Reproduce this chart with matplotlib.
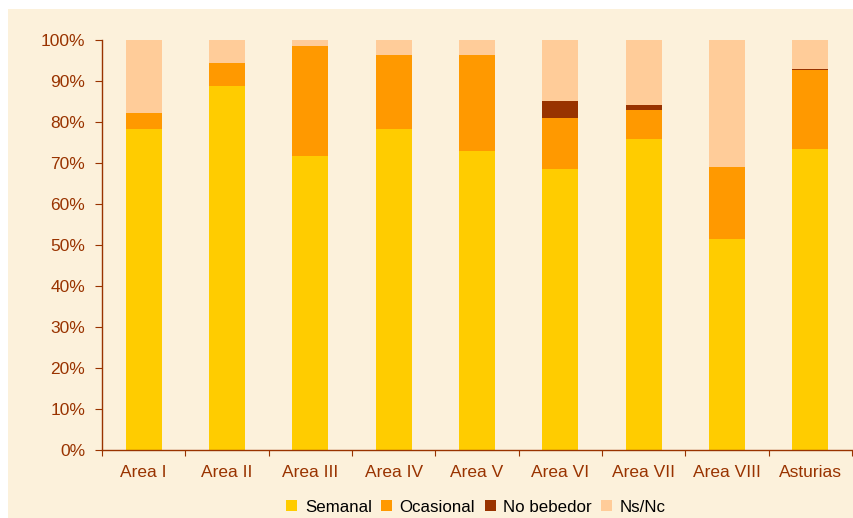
import matplotlib
matplotlib.use("Agg")
import matplotlib.pyplot as plt
from matplotlib.patches import Rectangle
from matplotlib.ticker import FixedLocator, FuncFormatter
import numpy as np

categories = ["Area I", "Area II", "Area III", "Area IV", "Area V",
              "Area VI", "Area VII", "Area VIII", "Asturias"]
semanal = [78.2, 88.9, 71.7, 78.3, 72.9, 68.5, 75.9, 51.5, 73.4]
ocasional = [3.9, 5.5, 26.8, 18.0, 23.4, 12.4, 7.0, 17.5, 19.2]
no_bebedor = [0.0, 0.0, 0.0, 0.0, 0.0, 4.3, 1.2, 0.0, 0.4]
series_names = ["Semanal", "Ocasional", "No bebedor", "Ns/Nc"]
colors = ["#FFCC00", "#FF9900", "#993300", "#FFCC99"]
text_color = "#993300"
bg = "#FCF1DB"

ns_nc = [100 - a - b - c for a, b, c in zip(semanal, ocasional, no_bebedor)]
series = [semanal, ocasional, no_bebedor, ns_nc]

plt.rcParams["font.family"] = ["Liberation Sans", "DejaVu Sans"]

fig = plt.figure(figsize=(8.54, 5.18), dpi=100, facecolor="white")
fig.patches.append(Rectangle((8 / 854, 0), 1, 509 / 518, transform=fig.transFigure,
                             facecolor=bg, edgecolor="none", zorder=-10))

ax = fig.add_axes([102 / 854, 68 / 518, 750 / 854, 410 / 518])
ax.set_facecolor(bg)
ax.patch.set_alpha(0)

x = np.arange(len(categories))
bottom = np.zeros(len(categories))
for name, vals, col in zip(series_names, series, colors):
    ax.bar(x, vals, width=0.43, bottom=bottom, color=col, label=name, linewidth=0)
    bottom += np.array(vals)

ax.set_xlim(-0.5, len(categories) - 0.5)
ax.set_ylim(0, 100)
ax.set_yticks(np.arange(0, 101, 10))
ax.yaxis.set_major_formatter(FuncFormatter(lambda v, p: f"{int(v)}%"))

ax.xaxis.set_major_locator(FixedLocator(np.arange(-0.5, len(categories), 1.0)))
ax.xaxis.set_major_formatter(FuncFormatter(lambda v, p: ""))
ax.xaxis.set_minor_locator(FixedLocator(x))
ax.set_xticklabels(categories, minor=True)
ax.tick_params(axis="x", which="minor", length=0, pad=11)
ax.tick_params(axis="x", which="major", length=4, color=text_color, direction="out")
ax.tick_params(axis="y", length=5, color=text_color, direction="out", pad=7)
ax.tick_params(which="both", labelcolor=text_color, labelsize=12.5)

for s in ["top", "right"]:
    ax.spines[s].set_visible(False)
for s in ["left", "bottom"]:
    ax.spines[s].set_color(text_color)
    ax.spines[s].set_linewidth(1.0)

handles, labels = ax.get_legend_handles_labels()
fig.legend(handles, labels, loc="center", bbox_to_anchor=(476 / 854, 11 / 518),
           ncol=4, frameon=False, fontsize=12.2, handlelength=0.65, handleheight=0.65,
           handletextpad=0.45, columnspacing=0.55)

fig.savefig("out.png", dpi=100, facecolor="white")
